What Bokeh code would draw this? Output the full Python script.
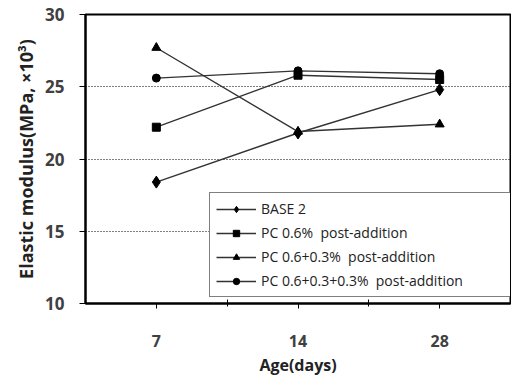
from bokeh.plotting import figure
from bokeh.models import Range1d, FixedTicker, Legend, LegendItem
from bokeh.embed import file_html
from bokeh.resources import INLINE

ages = ["7", "14", "28"]
base2 = [18.4, 21.8, 24.8]
pc06 = [22.2, 25.8, 25.5]
pc0603 = [27.7, 21.9, 22.4]
pc060303 = [25.6, 26.1, 25.9]
y_ticks = [10, 15, 20, 25, 30]
grid_vals = [15, 20, 25]
names = ["BASE 2", "PC 0.6%  post-addition", "PC 0.6+0.3%  post-addition",
         "PC 0.6+0.3+0.3%  post-addition"]

xs = [i + 1 for i in range(len(ages))]

p = figure(width=511, height=379, output_backend="svg", toolbar_location=None,
           x_range=Range1d(0.5, len(ages) + 0.5), y_range=Range1d(10, 30),
           min_border_left=85, min_border_right=1, min_border_top=14,
           min_border_bottom=76)

p.outline_line_color = "black"
p.outline_line_width = 2
p.background_fill_color = "white"
p.border_fill_color = "white"

p.xgrid.visible = False
p.ygrid.ticker = FixedTicker(ticks=grid_vals)
p.ygrid.grid_line_color = "black"
p.ygrid.grid_line_dash = "1 2"
p.ygrid.grid_line_width = 1

font = "Open Sans"

p.yaxis.ticker = FixedTicker(ticks=y_ticks)
p.yaxis.axis_label = "Elastic modulus(MPa, \u00d710\u00b3)"
p.yaxis.axis_label_text_font = font
p.yaxis.axis_label_text_font_style = "bold"
p.yaxis.axis_label_text_font_size = "18px"
p.yaxis.axis_label_text_color = "#222222"
p.yaxis.axis_label_standoff = 4
p.yaxis.major_label_text_font = font
p.yaxis.major_label_text_font_size = "17px"
p.yaxis.major_label_text_font_style = "bold"
p.yaxis.major_label_text_color = "#404040"
p.yaxis.major_label_standoff = 15
p.yaxis.major_tick_out = 6
p.yaxis.major_tick_in = 0
p.yaxis.minor_tick_line_color = None
p.yaxis.axis_line_width = 2
p.yaxis.axis_line_color = "black"
p.yaxis.major_tick_line_width = 1

p.xaxis.ticker = FixedTicker(ticks=xs, minor_ticks=[x + 0.5 for x in xs[:-1]])
p.xaxis.major_label_overrides = {x: a for x, a in zip(xs, ages)}
p.xaxis.axis_label = "Age(days)"
p.xaxis.axis_label_text_font = font
p.xaxis.axis_label_text_font_style = "bold"
p.xaxis.axis_label_text_font_size = "16px"
p.xaxis.axis_label_text_color = "#222222"
p.xaxis.axis_label_standoff = 4
p.xaxis.major_label_text_font = font
p.xaxis.major_label_text_font_size = "16px"
p.xaxis.major_label_text_font_style = "bold"
p.xaxis.major_label_text_color = "#404040"
p.xaxis.major_label_standoff = 26
p.xaxis.major_tick_out = 5
p.xaxis.major_tick_in = 0
p.xaxis.minor_tick_out = 3
p.xaxis.minor_tick_in = 4
p.xaxis.axis_line_width = 2
p.xaxis.axis_line_color = "black"

line_color = "#333333"
series = [base2, pc06, pc0603, pc060303]
markers = ["diamond", "square", "triangle", "circle"]
sizes = [12, 8, 9, 8]

items = []
for name, ys, m, s in zip(names, series, markers, sizes):
    r1 = p.line(xs, ys, line_color=line_color, line_width=1.4)
    r2 = p.scatter(xs, ys, marker=m, size=s, fill_color="black", line_color="black")
    items.append(LegendItem(label=name, renderers=[r1, r2]))

legend = Legend(items=items, location=(124, 6))
legend.label_text_font = font
legend.label_text_font_size = "14px"
legend.label_text_color = "#222222"
legend.glyph_width = 40
legend.glyph_height = 16
legend.label_height = 16
legend.spacing = 5
legend.padding = 6
legend.label_standoff = 5
legend.label_width = 246
legend.border_line_color = "black"
legend.border_line_width = 1
legend.background_fill_color = "white"
legend.background_fill_alpha = 1
legend.margin = 0
p.add_layout(legend, "center")

open("out.html", "w").write(file_html(p, INLINE))
